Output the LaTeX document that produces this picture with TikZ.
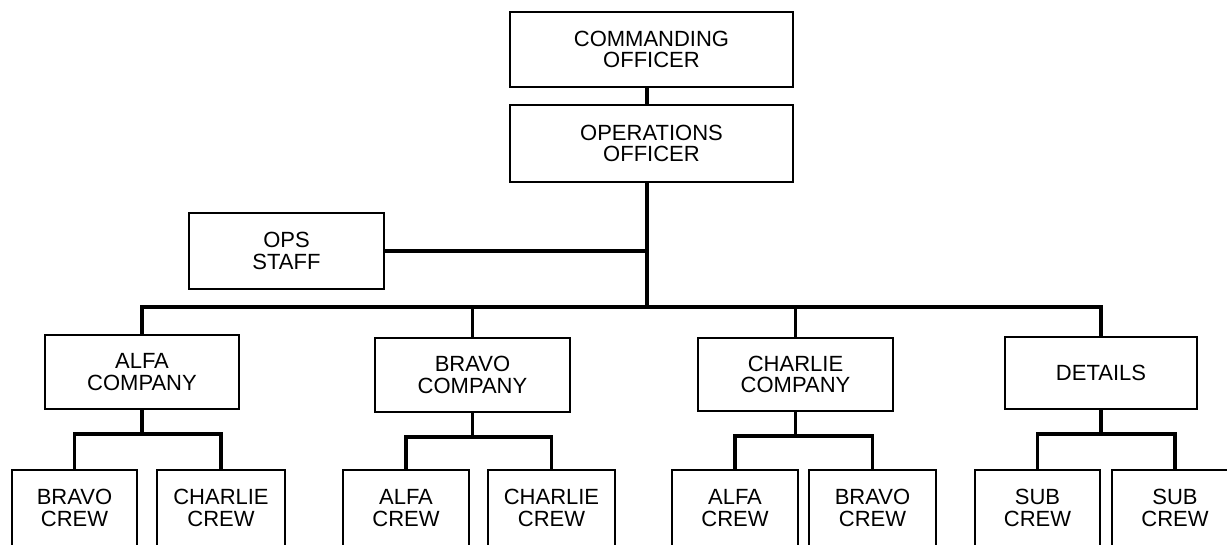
\documentclass[tikz,border=0pt]{standalone}
\usepackage{fontspec}
\setmainfont{Liberation Sans}
\usetikzlibrary{calc}

\tikzset{
  unitbox/.style={draw=black, line width=2.2pt, align=center, inner sep=0pt,
    font=\fontsize{22}{21.5}\selectfont},
  link/.style={draw=black, line width=3.8pt},
}

\begin{document}
\begin{tikzpicture}[x=1pt, y=-1pt]
  \useasboundingbox (0,0) rectangle (1227,545);
  \clip (0,0) rectangle (1227,545);

  % command chain
  \node[unitbox, minimum width=283, minimum height=75] (co) at (651.5,49.5) {COMMANDING\\OFFICER};
  \node[unitbox, minimum width=283, minimum height=77] (oo) at (651.5,143.5) {OPERATIONS\\OFFICER};
  \node[unitbox, minimum width=195, minimum height=76] (staff) at (286.5,251) {OPS\\STAFF};
  \coordinate (trunk) at (647,307);

  % companies
  \node[unitbox, minimum width=194, minimum height=74] (alfa) at (142,372) {ALFA\\COMPANY};
  \node[unitbox, minimum width=195, minimum height=74] (bravo) at (472.5,375) {BRAVO\\COMPANY};
  \node[unitbox, minimum width=195, minimum height=73] (charlie) at (795.5,374.5) {CHARLIE\\COMPANY};
  \node[unitbox, minimum width=192, minimum height=72] (details) at (1101,373) {DETAILS};

  % crews
  \node[unitbox, minimum width=125, minimum height=76] (a1) at (74.5,508) {BRAVO\\CREW};
  \node[unitbox, minimum width=128, minimum height=76] (a2) at (221,508) {CHARLIE\\CREW};
  \node[unitbox, minimum width=126, minimum height=76] (b1) at (406,508) {ALFA\\CREW};
  \node[unitbox, minimum width=127, minimum height=76] (b2) at (551.5,508) {CHARLIE\\CREW};
  \node[unitbox, minimum width=126, minimum height=76] (c1) at (735,508) {ALFA\\CREW};
  \node[unitbox, minimum width=127, minimum height=76] (c2) at (872.5,508) {BRAVO\\CREW};
  \node[unitbox, minimum width=125, minimum height=76] (d1) at (1037.5,508) {SUB\\CREW};
  \node[unitbox, minimum width=126, minimum height=76] (d2) at (1175,508) {SUB\\CREW};

  % upper connectors
  \draw[link] (co.south -| trunk) -- (oo.north -| trunk);
  \draw[link] (oo.south -| trunk) -- (trunk);
  \draw[link] (staff.east) -- (staff.east -| trunk);

  % company bus and drops
  \draw[link, line cap=rect] (alfa.north |- trunk) -- (details.north |- trunk);
  \foreach \c in {alfa,bravo,charlie,details}
    \draw[link] (\c.north) -- (\c.north |- trunk);

  % crew forks
  \foreach \c/\l/\r in {alfa/a1/a2, bravo/b1/b2, charlie/c1/c2, details/d1/d2} {
    \coordinate (\c-fork) at ($(\c.south)+(0,24)$);
    \draw[link] (\c.south) -- (\c-fork);
    \draw[link, line cap=rect] (\l.north |- \c-fork) -- (\r.north |- \c-fork);
    \draw[link] (\l.north |- \c-fork) -- (\l.north);
    \draw[link] (\r.north |- \c-fork) -- (\r.north);
  }
\end{tikzpicture}
\end{document}
